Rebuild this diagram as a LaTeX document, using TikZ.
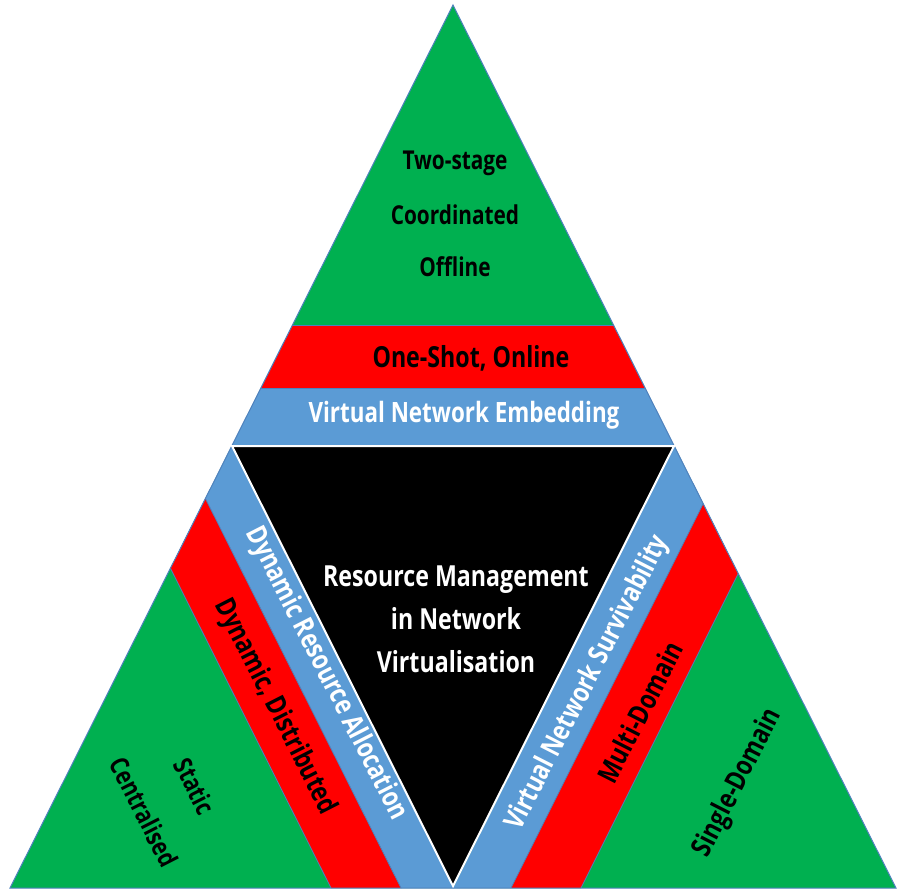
\documentclass[tikz,border=0pt]{standalone}
\usepackage{fontspec}
\setmainfont[FakeStretch=0.8]{Open Sans}
\definecolor{vgreen}{HTML}{00B050}
\definecolor{vred}{HTML}{FF0000}
\definecolor{vblue}{HTML}{5B9BD5}
\definecolor{vedge}{HTML}{4F81BD}

\begin{document}
\begin{tikzpicture}[x=1pt, y=-1pt,
  lbl/.style={font=\bfseries\fontsize{28}{30}\selectfont, inner sep=0pt},
  sml/.style={font=\bfseries\fontsize{26}{28}\selectfont, inner sep=0pt},
  sep/.style={draw=vedge, line width=0.8pt}]
\useasboundingbox (0,0) rectangle (897,892);

\begin{scope}
\clip (453,5) -- (896,888) -- (10,888) -- cycle;
\fill[vgreen] (0,0) rectangle (897,892);
\fill[vred] (0,325) rectangle (897,388);
\fill[vblue] (0,388) rectangle (897,446);
\draw[sep] (0,325) -- (897,325);
\draw[sep] (0,388) -- (897,388);
\fill[vblue] (219,420) -- (460,900) -- (407,900) -- (166,420) -- cycle;
\fill[vred] (166,420) -- (407,900) -- (337,900) -- (96,420) -- cycle;
\draw[sep] (166,420) -- (407,900);
\draw[sep] (96,420) -- (337,900);
\fill[vblue] (687,420) -- (447,900) -- (505,900) -- (745,420) -- cycle;
\fill[vred] (745,420) -- (505,900) -- (575,900) -- (815,420) -- cycle;
\draw[sep] (745,420) -- (505,900);
\draw[sep] (815,420) -- (575,900);
\end{scope}
\draw[vedge, line width=1pt] (453,5) -- (896,888) -- (10,888) -- cycle;
\filldraw[fill=black, draw=white, line width=2pt] (232,446) -- (674,446) -- (453,886) -- cycle;

\node[sml] (twostage) at (455,163) {Two-stage};
\node[sml] (coord) at (455,215) {Coordinated};
\node[sml] (offline) at (455,267) {Offline};
\node[lbl, font=\bfseries\fontsize{29}{30}\selectfont] (oneshot) at (471,358) {One-Shot, Online};
\node[lbl, white] (vne) at (464,415) {Virtual Network Embedding};
\node[lbl, white, align=center, font=\bfseries\fontsize{29}{43}\selectfont] (rmnv) at (456,619) {Resource Management\\in Network\\Virtualisation};

\node[lbl, white, rotate=-63] (dra) at (326,674) {Dynamic Resource Allocation};
\node[lbl, rotate=-63] (dyndist) at (275,707) {Dynamic, Distributed};
\node[sml, rotate=-63] (static) at (195,786) {Static};
\node[sml, rotate=-63] (central) at (144,812) {Centralised};

\node[lbl, white, rotate=63] (vns) at (588,683) {Virtual Network Survivability};
\node[lbl, rotate=63] (multidom) at (640,712) {Multi-Domain};
\node[lbl, rotate=63] (singledom) at (738,783) {Single-Domain};
\end{tikzpicture}
\end{document}
